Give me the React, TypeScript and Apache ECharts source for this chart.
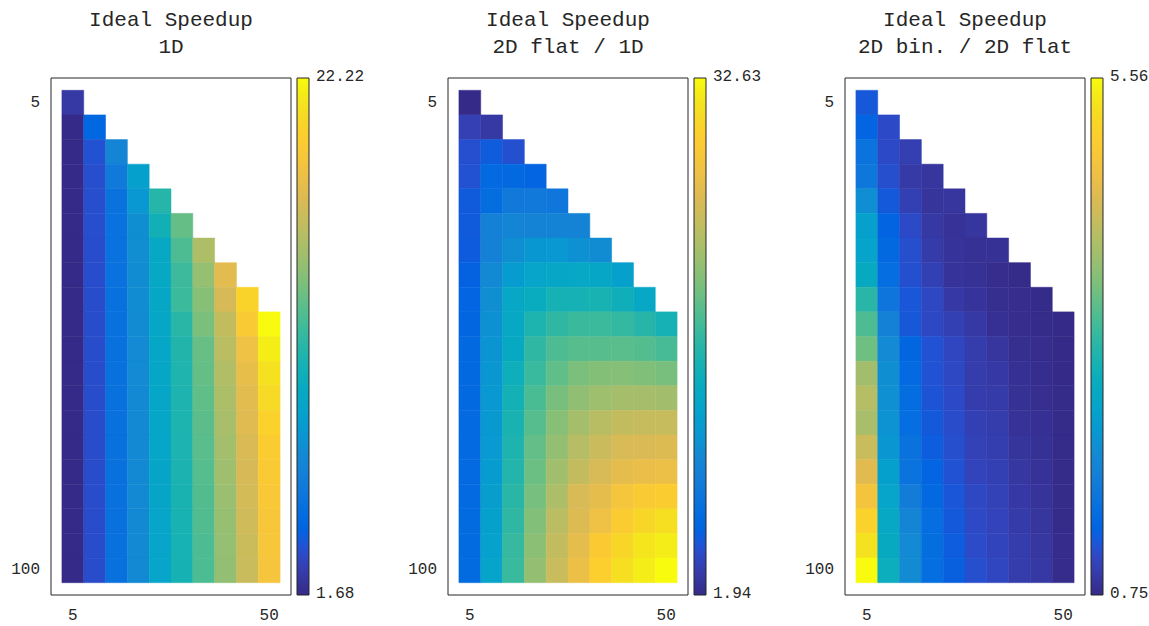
import React, { useEffect, useRef } from "react";
import * as echarts from "echarts";

// ---- data -----------------------------------------------------------------
const xValues = [5, 10, 15, 20, 25, 30, 35, 40, 45, 50];
const yValues = [5, 10, 15, 20, 25, 30, 35, 40, 45, 50, 55, 60, 65, 70, 75, 80, 85, 90, 95, 100];
const xTickLabels = ["5", "50"];
const yTickLabels = ["5", "100"];
const titleLine1 = ["Ideal Speedup", "Ideal Speedup", "Ideal Speedup"];
const titleLine2 = ["1D", "2D flat / 1D", "2D bin. / 2D flat"];

// each inner array is one column (x), starting at the row where y == x
const speedup1D = [
  [2.4, 1.7, 1.69, 1.69, 1.69, 1.68, 1.68, 1.68, 1.68, 1.68, 1.68, 1.68, 1.68, 1.68, 1.68, 1.68, 1.68, 1.68, 1.68, 1.68],
  [4.62, 3.59, 3.47, 3.45, 3.44, 3.43, 3.43, 3.42, 3.42, 3.41, 3.41, 3.41, 3.4, 3.4, 3.4, 3.4, 3.39, 3.39, 3.39],
  [6.9, 5.91, 5.38, 5.34, 5.32, 5.31, 5.3, 5.3, 5.29, 5.29, 5.28, 5.28, 5.27, 5.27, 5.26, 5.26, 5.25, 5.25],
  [8.87, 8.19, 7.55, 7.49, 7.43, 7.39, 7.35, 7.27, 7.26, 7.25, 7.24, 7.23, 7.22, 7.21, 7.2, 7.19, 7.18],
  [11.46, 10.66, 9.69, 9.65, 9.55, 9.49, 9.42, 9.4, 9.38, 9.36, 9.35, 9.33, 9.32, 9.3, 9.29, 9.28],
  [13.41, 12.77, 12.28, 12.2, 11.64, 11.33, 11.23, 11.17, 11.13, 11.09, 11.05, 10.98, 10.94, 10.9, 10.86],
  [15.71, 14.89, 14.39, 14.0, 13.49, 13.39, 13.29, 13.18, 13.08, 12.98, 12.92, 12.85, 12.79, 12.73],
  [17.8, 17.19, 16.43, 16.16, 15.85, 15.65, 15.48, 15.3, 15.15, 14.99, 14.89, 14.81, 14.72],
  [20.27, 19.45, 18.52, 18.11, 17.8, 17.6, 17.39, 17.23, 17.09, 16.94, 16.8, 16.67],
  [22.22, 21.71, 21.09, 20.68, 20.17, 19.76, 19.45, 19.3, 19.14, 19.04, 18.93],
];

const flat2DOver1D = [
  [1.94, 3.63, 4.64, 4.79, 5.32, 5.32, 5.38, 5.78, 6.08, 6.14, 6.39, 6.42, 6.45, 6.48, 6.51, 6.54, 6.54, 6.57, 6.6, 6.6],
  [3.01, 5.35, 6.54, 6.85, 9.15, 9.3, 10.07, 10.84, 11.02, 11.3, 11.45, 11.64, 11.76, 11.91, 12.16, 12.37, 12.62, 12.83, 12.99],
  [4.7, 6.45, 8.23, 9.61, 10.75, 12.16, 13.76, 13.91, 14.12, 14.98, 15.44, 15.9, 16.12, 16.43, 16.82, 17.13, 17.44, 17.59],
  [6.08, 8.23, 9.46, 11.61, 13.3, 14.52, 16.06, 17.13, 17.59, 18.36, 18.82, 19.43, 19.74, 20.2, 20.72, 21.12, 21.52],
  [8.08, 9.46, 11.67, 13.6, 15.6, 17.13, 18.51, 19.28, 20.26, 20.97, 21.52, 22.2, 22.81, 23.58, 23.97, 24.34],
  [9.46, 10.99, 13.76, 15.6, 17.65, 18.91, 20.35, 21.34, 22.41, 23.33, 24.04, 25.26, 25.57, 26.19, 26.8],
  [10.53, 13.45, 15.75, 17.68, 18.91, 20.81, 22.04, 23.42, 24.44, 25.26, 26.19, 27.11, 28.64, 29.19],
  [12.62, 15.14, 17.29, 18.97, 20.88, 22.41, 24.04, 25.26, 26.19, 27.72, 28.79, 30.02, 30.79],
  [13.76, 16.61, 18.76, 20.57, 22.44, 24.22, 25.42, 26.65, 28.49, 30.02, 31.25, 31.77],
  [15.6, 18.2, 20.29, 22.26, 24.22, 25.57, 26.8, 28.95, 30.79, 31.77, 32.63],
];

const bin2DOverFlat2D = [
  [1.25, 1.39, 1.63, 1.7, 2.14, 2.43, 2.51, 2.67, 3.08, 3.35, 3.55, 3.93, 4.09, 3.98, 4.26, 4.5, 4.77, 5.08, 5.3, 5.56],
  [1.13, 1.13, 1.17, 1.26, 1.38, 1.45, 1.53, 1.66, 1.88, 2.06, 2.13, 2.15, 2.19, 2.26, 2.43, 2.53, 2.63, 2.67, 2.77],
  [1.0, 0.94, 1.02, 1.13, 1.17, 1.18, 1.24, 1.25, 1.41, 1.47, 1.51, 1.53, 1.61, 1.63, 1.8, 1.95, 2.06, 2.08],
  [0.89, 0.88, 0.92, 0.95, 1.02, 1.11, 1.1, 1.2, 1.2, 1.22, 1.26, 1.3, 1.39, 1.45, 1.53, 1.54, 1.53],
  [0.89, 0.85, 0.87, 0.87, 0.93, 1.02, 1.09, 1.11, 1.13, 1.15, 1.17, 1.2, 1.24, 1.26, 1.3, 1.33],
  [0.89, 0.84, 0.84, 0.87, 0.92, 0.97, 0.97, 0.98, 1.02, 1.04, 1.06, 1.1, 1.12, 1.14, 1.17],
  [0.84, 0.79, 0.81, 0.83, 0.89, 0.93, 0.95, 0.97, 0.99, 1.02, 1.04, 1.06, 1.07, 1.09],
  [0.77, 0.79, 0.79, 0.81, 0.83, 0.84, 0.85, 0.88, 0.9, 0.93, 0.95, 0.97, 0.98],
  [0.76, 0.76, 0.79, 0.8, 0.81, 0.83, 0.84, 0.85, 0.87, 0.89, 0.9, 0.92],
  [0.75, 0.75, 0.75, 0.76, 0.76, 0.76, 0.77, 0.77, 0.77, 0.78, 0.78],
];

// ---- colormap (parula-like, gold region matched to the reference) ---------
const PARULA = [
  "#352a87", "#363093", "#3637a0", "#353dad", "#3243ba", "#2c4ac7", "#2053d4", "#0f5cdd",
  "#0363e1", "#0268e1", "#046de0", "#0871de", "#0d75dc", "#1079da", "#127dd8", "#1481d6",
  "#1485d4", "#1389d3", "#108ed2", "#0c93d2", "#0998d1", "#079ccf", "#06a0cd", "#06a4ca",
  "#06a7c6", "#07a9c2", "#0aacbe", "#0faeb9", "#15b1b4", "#1db3af", "#25b5a9", "#2eb7a4",
  "#38b99e", "#42bb98", "#4dbc92", "#59bd8c", "#65be86", "#71bf80", "#7cbf7b", "#87bf77",
  "#92bf73", "#9cbf6f", "#a5be6b", "#aebe67", "#b7bd64", "#c0bc60", "#c8bc5d", "#d1bb59",
  "#d9ba56", "#e0bb51", "#e6bd4c", "#ecbf47", "#f1c242", "#f5c53c", "#f9c837", "#fbcb32",
  "#fcce2e", "#fad32a", "#f7d826", "#f5de21", "#f5e41d", "#f5eb18", "#f6f313", "#f9fb0e",
];

const FONT = "'Liberation Mono', 'DejaVu Sans Mono', monospace";
const TEXT = "#262626";

const PANEL_LEFT = [51, 448, 845];
const BOX_TOP = 78;
const BOX_W = 240;
const BOX_H = 517;

function toTriples(cols: number[][]) {
  const out: number[][] = [];
  cols.forEach((col, c) => {
    col.forEach((v, k) => {
      out.push([xValues[c], yValues[c + k], v]);
    });
  });
  return out;
}

export default function App() {
  const ref = useRef<HTMLDivElement>(null);

  useEffect(() => {
    if (!ref.current) return;
    const chart = echarts.init(ref.current, undefined, { renderer: "svg" });
    const matrices = [speedup1D, flat2DOver1D, bin2DOverFlat2D];
    const datasets = matrices.map(toTriples);
    const mins = matrices.map((m) => Math.min(...m.flat()));
    const maxs = matrices.map((m) => Math.max(...m.flat()));

    // top of the colorbar (offset 0) is the highest colour
    const n = PARULA.length;
    const barStops = PARULA.map((_, i) => ({ offset: i / (n - 1), color: PARULA[n - 1 - i] }));

    const textStyle = (text: string, size: number, align: string, vAlign: string) => ({
      text,
      fontFamily: FONT,
      fontSize: size,
      fill: TEXT,
      align,
      verticalAlign: vAlign,
      textAlign: align,
      textVerticalAlign: vAlign,
    });

    const graphics: any[] = [];
    PANEL_LEFT.forEach((L, i) => {
      const cx = L + BOX_W / 2;
      graphics.push({ type: "text", x: cx, y: 20, style: textStyle(titleLine1[i], 21, "center", "middle") });
      graphics.push({ type: "text", x: cx, y: 47, style: textStyle(titleLine2[i], 21, "center", "middle") });
      const barX = L + 246;
      graphics.push({
        type: "rect",
        x: barX,
        y: BOX_TOP,
        shape: { x: 0, y: 0, width: 12, height: BOX_H },
        style: {
          fill: new echarts.graphic.LinearGradient(0, 0, 0, 1, barStops),
          stroke: TEXT,
          lineWidth: 1,
        },
      });
      graphics.push({ type: "text", x: barX + 19, y: BOX_TOP - 1, style: textStyle(maxs[i].toFixed(2), 16, "left", "middle") });
      graphics.push({ type: "text", x: barX + 19, y: BOX_TOP + BOX_H - 1, style: textStyle(mins[i].toFixed(2), 16, "left", "middle") });
    });

    const option: any = {
      animation: false,
      backgroundColor: "#ffffff",
      grid: PANEL_LEFT.map((L) => ({
        left: L,
        top: BOX_TOP,
        width: BOX_W,
        height: BOX_H,
        show: true,
        borderColor: TEXT,
        borderWidth: 1,
        backgroundColor: "#ffffff",
        containLabel: false,
      })),
      xAxis: PANEL_LEFT.map((_, i) => ({
        gridIndex: i,
        type: "value",
        min: 0,
        max: 55,
        interval: 5,
        axisLine: { show: false },
        axisTick: { show: false },
        splitLine: { show: false },
        axisLabel: {
          formatter: (v: number) => (xTickLabels.includes(String(v)) ? String(v) : ""),
          color: TEXT,
          fontFamily: FONT,
          fontSize: 16,
          margin: 13,
        },
      })),
      yAxis: PANEL_LEFT.map((_, i) => ({
        gridIndex: i,
        type: "value",
        inverse: true,
        min: 0,
        max: 105,
        interval: 5,
        axisLine: { show: false },
        axisTick: { show: false },
        splitLine: { show: false },
        axisLabel: {
          formatter: (v: number) => (yTickLabels.includes(String(v)) ? String(v) : ""),
          color: TEXT,
          fontFamily: FONT,
          fontSize: 16,
          margin: 11,
        },
      })),
      visualMap: PANEL_LEFT.map((_, i) => ({
        type: "continuous",
        show: false,
        seriesIndex: i,
        dimension: 2,
        min: mins[i],
        max: maxs[i],
        inRange: { color: PARULA },
      })),
      series: datasets.map((data, i) => ({
        type: "custom",
        xAxisIndex: i,
        yAxisIndex: i,
        data,
        encode: { x: 0, y: 1 },
        renderItem: (params: any, api: any) => {
          const x = api.value(0);
          const y = api.value(1);
          const p0 = api.coord([x - 2.5, y - 2.5]);
          const p1 = api.coord([x + 2.5, y + 2.5]);
          const color = api.visual("color");
          return {
            type: "rect",
            shape: {
              x: Math.min(p0[0], p1[0]),
              y: Math.min(p0[1], p1[1]),
              width: Math.abs(p1[0] - p0[0]),
              height: Math.abs(p1[1] - p0[1]),
            },
            style: { fill: color, stroke: color, lineWidth: 0.5 },
          };
        },
      })),
      graphic: graphics,
    };

    chart.setOption(option);
    return () => chart.dispose();
  }, []);

  return (
    <div
      ref={ref}
      style={{ position: "absolute", left: 0, top: 0, width: 1149, height: 626, background: "#fff" }}
    />
  );
}
